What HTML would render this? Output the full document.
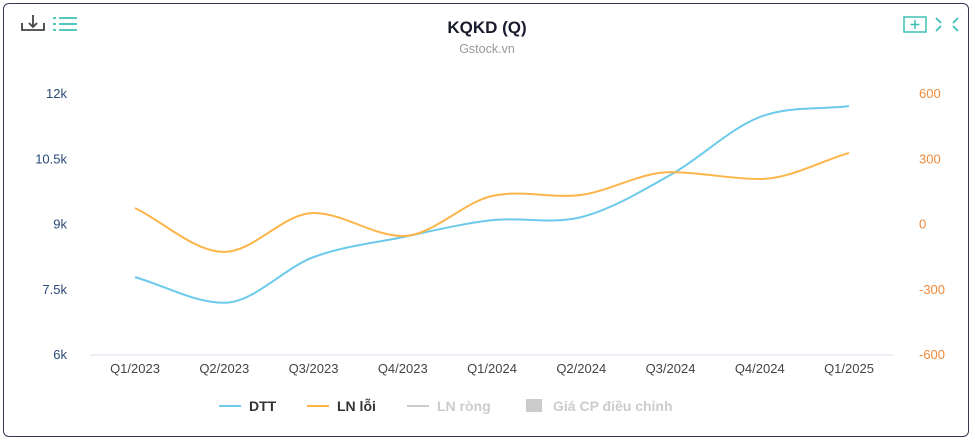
<!DOCTYPE html>
<html><head><meta charset="utf-8"><style>
html,body{margin:0;padding:0;background:#fff;width:975px;height:443px;overflow:hidden;font-family:"Liberation Sans",sans-serif}
#frame{position:absolute;left:3px;top:3px;width:966px;height:434px;border:1.5px solid #3d3557;border-radius:6px;box-sizing:border-box}
</style></head><body>
<div id="frame"></div>
<svg id="c" width="975" height="443" style="position:absolute;left:0;top:0">
<text x="487" y="33" text-anchor="middle" font-size="17" font-weight="bold" fill="#1a1a2e">KQKD (Q)</text>
<text x="487" y="53" text-anchor="middle" font-size="12.5" fill="#999">Gstock.vn</text>
<g stroke="#444" stroke-width="1.8" fill="none"><path d="M22 23v7h22v-7"/><path d="M33 15v12M29 23l4 4 4-4"/></g>
<g stroke="#3cc0b4" stroke-width="1.8"><path d="M53 18h3M59 18h18M53 24h3M59 24h18M53 30h3M59 30h18"/></g>
<g stroke="#3cc0b4" stroke-width="1.5" fill="none"><rect x="904" y="17" width="22" height="15"/><path d="M915 20v9M910.5 24.5h9"/></g>
<g stroke="#3cc0b4" stroke-width="1.8" fill="none"><path d="M936 18l5 5M958 18l-5 5M936 31l5-5M958 31l-5-5"/></g>
<line x1="90" y1="355" x2="893" y2="355" stroke="#d8e2ee" stroke-width="1"/>
<g id="axes"></g><g id="series"></g><g id="legend"></g>
</svg>
<script>
const categories=["Q1/2023","Q2/2023","Q3/2023","Q4/2023","Q1/2024","Q2/2024","Q3/2024","Q4/2024","Q1/2025"];
const dtt=[7790,7200,8250,8710,9100,9170,10140,11470,11720];
const lnLoi=[76,-126,53,-53,131,136,241,209,329];
const leftTicks=[6000,7500,9000,10500,12000];
const leftLabels=["6k","7.5k","9k","10.5k","12k"];
const rightTicks=[-600,-300,0,300,600];
const NS="http://www.w3.org/2000/svg";
const X0=135,DX=89.25,YT=94,YB=355;
const xs=i=>X0+i*DX;
const yl=v=>YB-(v-6000)/6000*(YB-YT);
const yr=v=>YB-(v+600)/1200*(YB-YT);
function mk(t,a,p){const e=document.createElementNS(NS,t);for(const k in a)e.setAttribute(k,a[k]);p.appendChild(e);return e;}
const ax=document.getElementById('axes');
leftTicks.forEach((v,i)=>{const t=mk('text',{x:67,y:yl(v)+4,'text-anchor':'end','font-size':13,fill:'#2a4a7a'},ax);t.textContent=leftLabels[i];

});
rightTicks.forEach(v=>{const t=mk('text',{x:919,y:yr(v)+4,'text-anchor':'start','font-size':13,fill:'#f08a3a'},ax);t.textContent=String(v);

});
categories.forEach((c,i)=>{const t=mk('text',{x:xs(i),y:373,'text-anchor':'middle','font-size':13,fill:'#444'},ax);t.textContent=c;

});
function mono(pts){const n=pts.length,d=[],m=[];for(let i=0;i<n-1;i++)d.push((pts[i+1][1]-pts[i][1])/(pts[i+1][0]-pts[i][0]));
m[0]=d[0];m[n-1]=d[n-2];for(let i=1;i<n-1;i++)m[i]=d[i-1]*d[i]<=0?0:(d[i-1]+d[i])/2;
let s=`M${pts[0][0]},${pts[0][1]}`;for(let i=0;i<n-1;i++){const h=(pts[i+1][0]-pts[i][0])/3;
s+=` C${pts[i][0]+h},${pts[i][1]+m[i]*h} ${pts[i+1][0]-h},${pts[i+1][1]-m[i+1]*h} ${pts[i+1][0]},${pts[i+1][1]}`;}return s;}
const sg=document.getElementById('series');
const p1=mk('path',{d:mono(dtt.map((v,i)=>[xs(i),yl(v)])),fill:'none',stroke:'#6ccaea','stroke-width':2},sg);


const p2=mk('path',{d:mono(lnLoi.map((v,i)=>[xs(i),yr(v)])),fill:'none',stroke:'#fdb54a','stroke-width':2},sg);


const lg=document.getElementById('legend');
function item(x,name,color,txtColor,sq,label){const g=mk('g',{},lg);


if(sq)mk('rect',{x:x,y:399,width:16,height:13,fill:color},g);else mk('line',{x1:x,y1:406,x2:x+22,y2:406,stroke:color,'stroke-width':2},g);
const t=mk('text',{x:x+(sq?27:30),y:411,'font-size':14,'font-weight':'bold',fill:txtColor},g);t.textContent=label;}
item(219,'legend-dtt','#6ccaea','#333',false,'DTT');
item(307,'legend-ln-loi','#fdb54a','#333',false,'LN lỗi');
item(407,'legend-ln-rong','#ccc','#ccc',false,'LN ròng');
item(526,'legend-gia-cp','#ccc','#ccc',true,'Giá CP điều chỉnh');
</script>
</body></html>
